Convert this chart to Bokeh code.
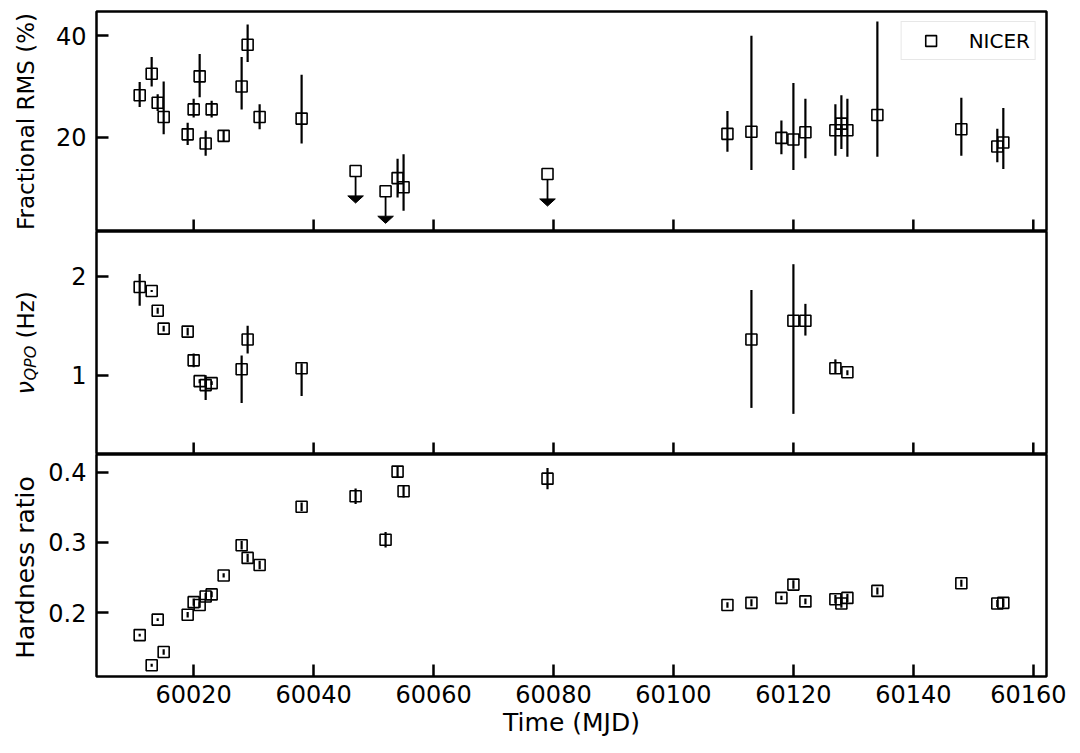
import math
from bokeh.plotting import figure
from bokeh.models import Range1d, FixedTicker, Legend, LegendItem, ColumnDataSource
from bokeh.layouts import column, row
from bokeh.core.properties import value
from bokeh.embed import file_html
from bokeh.resources import INLINE

# ---------------- data ----------------
rms_mjd = [60011, 60013, 60014, 60015, 60019, 60020, 60021, 60022, 60023, 60025,
           60028, 60029, 60031, 60038, 60054, 60055, 60109, 60113, 60118, 60120,
           60122, 60127, 60128, 60129, 60134, 60148, 60154, 60155]
rms_val = [28.3, 32.5, 26.8, 24.0, 20.6, 25.5, 32.0, 18.8, 25.5, 20.3,
           30.0, 38.2, 24.0, 23.7, 12.0, 10.2, 20.7, 21.1, 19.9, 19.6,
           21.0, 21.4, 22.7, 21.4, 24.4, 21.6, 18.2, 19.0]
rms_lo = [26.0, 30.0, 25.2, 20.6, 18.5, 23.9, 27.9, 16.4, 23.9, 19.3,
          25.5, 34.8, 21.6, 18.8, 8.2, 5.6, 17.2, 13.6, 16.7, 13.6,
          15.9, 16.4, 17.7, 16.2, 16.2, 16.4, 15.1, 13.8]
rms_hi = [30.9, 35.8, 28.5, 31.0, 22.9, 27.6, 36.4, 21.3, 27.2, 21.3,
          35.8, 42.2, 26.5, 32.3, 15.8, 16.7, 25.2, 40.0, 23.3, 30.7,
          27.6, 26.5, 28.3, 27.6, 42.8, 27.8, 21.7, 25.8]

ul_mjd = [60047, 60052, 60079]
ul_val = [13.4, 9.4, 12.8]
ul_len = 4.9

qpo_mjd = [60011, 60013, 60014, 60015, 60019, 60020, 60021, 60022, 60023, 60028,
           60029, 60038, 60113, 60120, 60122, 60127, 60129]
qpo_val = [1.89, 1.85, 1.65, 1.47, 1.44, 1.15, 0.94, 0.90, 0.92, 1.06,
           1.36, 1.07, 1.36, 1.55, 1.55, 1.07, 1.03]
qpo_lo = [1.70, 1.84, 1.62, 1.44, 1.40, 1.08, 0.92, 0.75, 0.90, 0.72,
          1.22, 0.79, 0.67, 0.61, 1.40, 1.02, 1.00]
qpo_hi = [2.02, 1.86, 1.68, 1.50, 1.48, 1.22, 0.96, 1.00, 0.94, 1.20,
          1.50, 1.12, 1.86, 2.12, 1.72, 1.16, 1.05]

hr_mjd = [60011, 60013, 60014, 60015, 60019, 60020, 60021, 60022, 60023, 60025,
          60028, 60029, 60031, 60038, 60047, 60052, 60054, 60055, 60079, 60109,
          60113, 60118, 60120, 60122, 60127, 60128, 60129, 60134, 60148, 60154, 60155]
hr_val = [0.168, 0.125, 0.190, 0.144, 0.197, 0.215, 0.211, 0.223, 0.226, 0.253,
          0.296, 0.278, 0.268, 0.351, 0.366, 0.304, 0.401, 0.373, 0.391, 0.211,
          0.214, 0.221, 0.240, 0.216, 0.219, 0.213, 0.221, 0.231, 0.242, 0.213, 0.214]
hr_err = [0.002, 0.002, 0.002, 0.004, 0.004, 0.005, 0.004, 0.005, 0.004, 0.003,
          0.006, 0.006, 0.006, 0.006, 0.011, 0.011, 0.008, 0.009, 0.015, 0.004,
          0.005, 0.003, 0.006, 0.004, 0.006, 0.006, 0.006, 0.005, 0.005, 0.005, 0.006]

x_ticks = [60020, 60040, 60060, 60080, 60100, 60120, 60140, 60160]
rms_ticks = [20, 40]
qpo_ticks = [1, 2]
hr_ticks = [0.2, 0.3, 0.4]

# ---------------- style / layout ----------------
FONT = "DejaVu Sans"
TICK_FS = "24px"
MS = 11
MLW = 1.6
ELW = 2.2
X0, X1 = 60003.8, 60162.2
x_range = Range1d(X0, X1)
FRAME_W = 950
LAB_W = 40                      # width of the strip that holds the y labels
TOP, H1, H2, H3, BOT = 11, 220, 223, 222, 70
TOTAL_H = TOP + H1 + H2 + H3 + BOT


def make_fig(y0, y1, yticks, frame_h, b_top, b_bottom, show_x):
    p = figure(frame_width=FRAME_W, frame_height=frame_h, x_range=x_range,
               y_range=Range1d(y0, y1), output_backend="svg", toolbar_location=None,
               x_axis_location="below" if show_x else None,
               min_border_left=96 - LAB_W, min_border_right=20, min_border_top=b_top,
               min_border_bottom=b_bottom, background_fill_color="white",
               border_fill_color="white")
    p.grid.visible = False
    p.outline_line_color = "black"
    p.outline_line_width = 2.5
    p.outline_line_alpha = 1.0
    axes = [p.yaxis[0]] + ([p.xaxis[0]] if show_x else [])
    for ax in axes:
        ax.axis_line_color = None
        ax.major_tick_in = 12
        ax.major_tick_out = 0
        ax.major_tick_line_width = 2.5
        ax.major_tick_line_color = "black"
        ax.minor_tick_line_color = None
        ax.major_label_text_font = FONT
        ax.major_label_text_font_size = TICK_FS
        ax.major_label_text_color = "black"
    p.yaxis.ticker = FixedTicker(ticks=yticks)
    p.yaxis.major_label_standoff = 10
    if show_x:
        p.xaxis.ticker = FixedTicker(ticks=x_ticks)
        p.xaxis.major_label_standoff = 8
        p.xaxis.axis_label = "Time (MJD)"
        p.xaxis.axis_label_text_font = FONT
        p.xaxis.axis_label_text_font_size = "25px"
        p.xaxis.axis_label_text_font_style = "normal"
        p.xaxis.axis_label_text_color = "black"
        p.xaxis.axis_label_standoff = 2
    else:
        # inward x ticks along the bottom edge of the stacked panel
        p.ray(x=x_ticks, y=[y0] * len(x_ticks), length=12, length_units="screen",
              angle=math.pi / 2, line_color="black", line_width=2.5)
    return p


# ---------------- top: fractional RMS ----------------
p1 = make_fig(1.5, 44.75, rms_ticks, H1, TOP, 0, False)
src1 = ColumnDataSource(dict(x=rms_mjd, y=rms_val, lo=rms_lo, hi=rms_hi))
p1.segment(x0="x", y0="lo", x1="x", y1="hi", source=src1, line_color="black", line_width=ELW)
sq1 = p1.scatter(x="x", y="y", source=src1, marker="square", size=MS,
                 fill_color=None, line_color="black", line_width=MLW)

ul_src = ColumnDataSource(dict(x=ul_mjd, y=ul_val,
                               yb=[v - ul_len for v in ul_val]))
p1.segment(x0="x", y0="y", x1="x", y1="yb", source=ul_src, line_color="black", line_width=1.8)
p1.patches(xs=[[m - 1.3, m + 1.3, m] for m in ul_mjd],
           ys=[[v - ul_len, v - ul_len, v - ul_len - 1.4] for v in ul_val],
           fill_color="black", line_color="black", line_width=1)
p1.scatter(x="x", y="y", source=ul_src, marker="square", size=MS,
           fill_color="white", line_color="black", line_width=MLW)

legend = Legend(items=[LegendItem(label="NICER", renderers=[sq1])],
                location="top_right", margin=10, padding=5, glyph_width=48,
                glyph_height=27, label_height=27, label_standoff=14,
                label_text_font=FONT, label_text_font_size="20px",
                label_text_color="black", border_line_color="#d0d0d0",
                border_line_width=1.2, background_fill_alpha=0.85)
p1.add_layout(legend)

# ---------------- middle: QPO frequency ----------------
p2 = make_fig(0.2, 2.45, qpo_ticks, H2, 0, 0, False)
src2 = ColumnDataSource(dict(x=qpo_mjd, y=qpo_val, lo=qpo_lo, hi=qpo_hi))
p2.segment(x0="x", y0="lo", x1="x", y1="hi", source=src2, line_color="black", line_width=ELW)
p2.scatter(x="x", y="y", source=src2, marker="square", size=MS,
           fill_color=None, line_color="black", line_width=MLW)

# ---------------- bottom: hardness ratio ----------------
p3 = make_fig(0.109, 0.4254, hr_ticks, H3, 0, BOT, True)
src3 = ColumnDataSource(dict(x=hr_mjd, y=hr_val,
                             lo=[v - e for v, e in zip(hr_val, hr_err)],
                             hi=[v + e for v, e in zip(hr_val, hr_err)]))
p3.segment(x0="x", y0="lo", x1="x", y1="hi", source=src3, line_color="black", line_width=ELW)
p3.scatter(x="x", y="y", source=src3, marker="square", size=MS,
           fill_color=None, line_color="black", line_width=MLW)

# ---------------- y-axis titles (pixel-space strip left of the panels) ----------------
lab = figure(width=LAB_W, height=TOTAL_H, x_range=Range1d(0, LAB_W),
             y_range=Range1d(0, TOTAL_H), output_backend="svg", toolbar_location=None,
             min_border=0, x_axis_location=None, y_axis_location=None,
             background_fill_color="white", border_fill_color="white")
lab.outline_line_color = None
lab.grid.visible = False

base_x = 25                                   # anchor of the rotated titles
mid1 = TOTAL_H - (TOP + H1 / 2)               # centre of each panel (y up)
mid3 = BOT + H3 / 2
bot2 = BOT + H3                               # bottom edge of the middle panel
common = dict(angle=math.pi / 2, text_baseline="alphabetic", text_color="black",
              text_font=value(FONT))
lab.text(x=[base_x], y=[mid1], text=["Fractional RMS (%)"],
         text_align="center", text_font_size="23px", **common)
lab.text(x=[base_x], y=[mid3 - 2], text=["Hardness ratio"],
         text_align="center", text_font_size="25px", **common)
lab.text(x=[base_x], y=[bot2 + 60], text=["ν"], text_align="left",
         text_font_size="24px", text_font_style="italic", **common)
lab.text(x=[base_x + 5], y=[bot2 + 74], text=["QPO"], text_align="left",
         text_font_size="16px", text_font_style="italic", **common)
lab.text(x=[base_x], y=[bot2 + 116], text=["(Hz)"], text_align="left",
         text_font_size="23px", **common)

layout = row(lab, column(p1, p2, p3, spacing=0), spacing=0)
open("out.html", "w").write(file_html(layout, INLINE))
